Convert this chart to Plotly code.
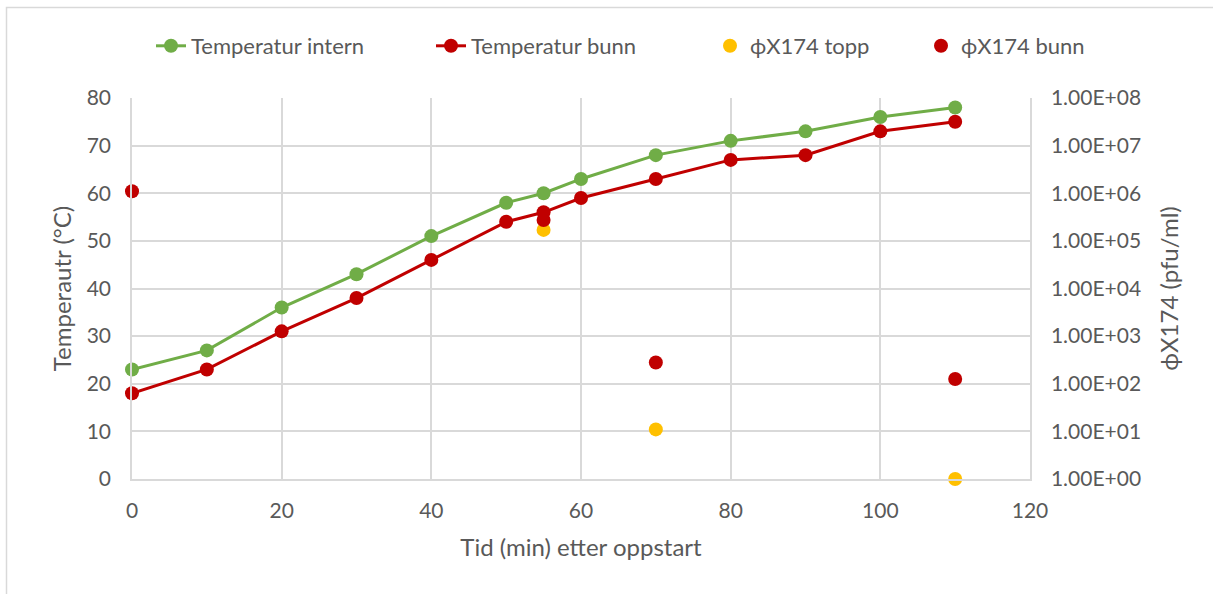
import plotly.graph_objects as go

# Time after start (min)
tid = [0, 10, 20, 30, 40, 50, 55, 60, 70, 80, 90, 100, 110]
temp_intern = [23, 27, 36, 43, 51, 58, 60, 63, 68, 71, 73, 76, 78]
temp_bunn = [18, 23, 31, 38, 46, 54, 56, 59, 63, 67, 68, 73, 75]

# Phage counts (pfu/ml)
phi_topp_tid = [55, 70, 110]
phi_topp = [1.7e5, 11, 1]
phi_bunn_tid = [0, 55, 70, 110]
phi_bunn = [1.1e6, 2.75e5, 280, 126]

right_tickvals = [1e0, 1e1, 1e2, 1e3, 1e4, 1e5, 1e6, 1e7, 1e8]
right_ticktext = ["1.00E+00", "1.00E+01", "1.00E+02", "1.00E+03", "1.00E+04",
                  "1.00E+05", "1.00E+06", "1.00E+07", "1.00E+08"]

GREEN = "#70ad47"
RED = "#c00000"
YELLOW = "#ffc000"
GRID = "#d9d9d9"
TEXT = "#595959"
FONT = "Lato"

fig = go.Figure()
fig.add_trace(go.Scatter(x=tid, y=temp_intern, name="Temperatur intern",
                         mode="lines+markers", line=dict(color=GREEN, width=3),
                         marker=dict(color=GREEN, size=14), legend="legend",
                         cliponaxis=False))
fig.add_trace(go.Scatter(x=tid, y=temp_bunn, name="Temperatur bunn",
                         mode="lines+markers", line=dict(color=RED, width=3),
                         marker=dict(color=RED, size=14), legend="legend2",
                         cliponaxis=False))
fig.add_trace(go.Scatter(x=phi_topp_tid, y=phi_topp, name="ϕX174 topp",
                         mode="markers", marker=dict(color=YELLOW, size=14),
                         yaxis="y2", legend="legend3", cliponaxis=False))
fig.add_trace(go.Scatter(x=phi_bunn_tid, y=phi_bunn, name="ϕX174 bunn",
                         mode="markers", marker=dict(color=RED, size=14),
                         yaxis="y2", legend="legend4", cliponaxis=False))

def leg(xpix):
    return dict(x=(xpix - 132) / 898, y=(479 - 46) / 381, xanchor="left",
                yanchor="middle", orientation="h", bgcolor="rgba(0,0,0,0)",
                font=dict(family=FONT, size=22, color=TEXT))

fig.update_layout(
    width=1213, height=594,
    margin=dict(l=132, r=183, t=98, b=115),
    paper_bgcolor="white", plot_bgcolor="white",
    font=dict(family=FONT, color=TEXT),
    showlegend=True,
    legend=leg(151), legend2=leg(431), legend3=leg(710), legend4=leg(921),
    xaxis=dict(range=[0, 120], dtick=20, showgrid=True, gridcolor=GRID, gridwidth=1.5,
               showline=True, linecolor=GRID, linewidth=1.5, zeroline=False,
               ticks="", ticklabelstandoff=12,
               tickfont=dict(family=FONT, size=21, color=TEXT),
               title=dict(text="Tid (min) etter oppstart", standoff=18,
                          font=dict(family=FONT, size=24, color=TEXT))),
    yaxis=dict(range=[0, 80], dtick=10, showgrid=True, gridcolor=GRID, gridwidth=1.5,
               showline=True, linecolor=GRID, linewidth=1.5, zeroline=False,
               ticks="", ticklabelstandoff=15, tickfont=dict(family=FONT, size=21, color=TEXT),
               title=dict(text="Temperautr (°C)", standoff=8,
                          font=dict(family=FONT, size=24, color=TEXT))),
    yaxis2=dict(type="log", range=[0, 8], overlaying="y", side="right",
                tickvals=right_tickvals, ticktext=right_ticktext, showgrid=False,
                showline=True, linecolor=GRID, linewidth=1.5, zeroline=False,
                ticks="", ticklabelstandoff=15,
                tickfont=dict(family=FONT, size=21, color=TEXT),
                title=dict(text="ϕX174 (pfu/ml)", standoff=21,
                           font=dict(family=FONT, size=24, color=TEXT))),
)

# Chart frame
fig.add_shape(type="rect", xref="paper", yref="paper",
              x0=(6.5 - 132) / 898, x1=(1240 - 132) / 898,
              y0=(479 - 620) / 381, y1=(479 - 7.5) / 381,
              line=dict(color=GRID, width=1.5), layer="below")

fig.write_html("out.html")
